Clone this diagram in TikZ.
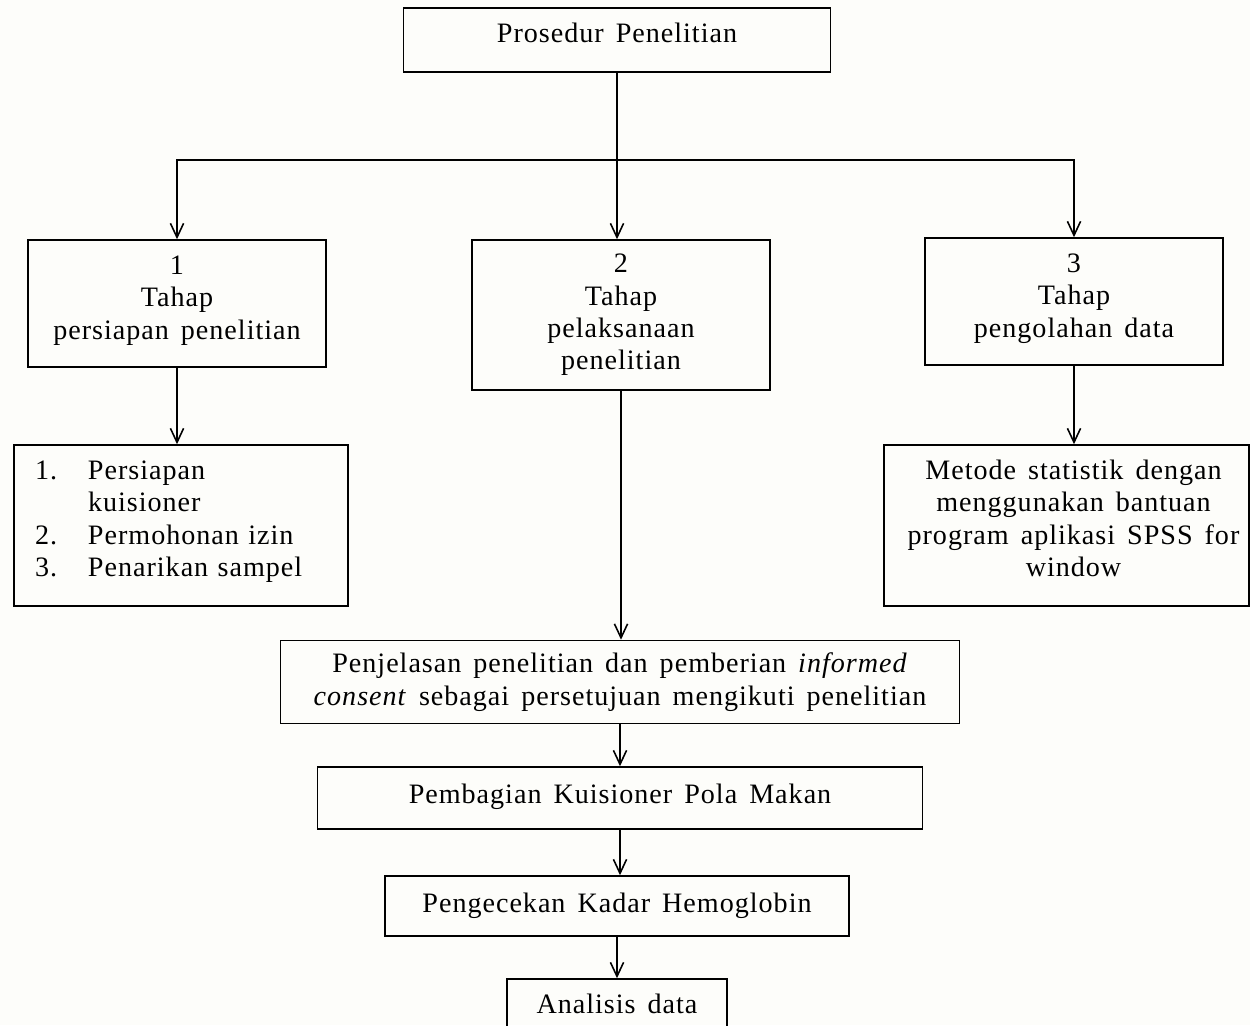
\documentclass[tikz,border=0pt]{standalone}
\usepackage{fontspec}
\setmainfont{Liberation Serif}[LetterSpace=3.5, WordSpace=1.5]
\usetikzlibrary{arrows.meta,positioning}
\definecolor{paper}{RGB}{253,253,250}

\begin{document}
\begin{tikzpicture}[x=0.02cm, y=-0.02cm,
    box/.style={rectangle, draw=black, line width=0.9pt, align=center, inner sep=0pt, font=\fontsize{16}{18.4}\selectfont},
    arrow/.style={-{Straight Barb[length=8pt,width=7.5pt]}, line width=0.9pt}
  ]
    \fill[paper] (0,0) rectangle (1250,1025);
    \useasboundingbox (0,0) rectangle (1250,1025);

    % Top
    \node[box, minimum width=8.54cm, minimum height=1.28cm] (prosedur) at (617,40) {\raisebox{0.28cm}{Prosedur Penelitian}};

    % Stages
    \node[box, minimum width=5.96cm, minimum height=2.54cm] (tahapa) at (177,303.5)
      {\raisebox{0.06cm}[\height][\depth]{\begin{tabular}{@{}c@{}}1\\Tahap\\persiapan penelitian\end{tabular}}};
    \node[box, minimum width=5.96cm, minimum height=3.0cm] (tahapb) at (621,315) {2\\Tahap\\pelaksanaan\\penelitian};
    \node[box, minimum width=5.96cm, minimum height=2.54cm] (tahapc) at (1074,301.5)
      {\raisebox{0.06cm}[\height][\depth]{\begin{tabular}{@{}c@{}}3\\Tahap\\pengolahan data\end{tabular}}};

    % Details
    \node[box, minimum width=6.68cm, minimum height=3.22cm, text width=5.84cm, align=left] (persiapan) at (181,525.5)
      {\raisebox{0.08cm}[\height][\depth]{\begin{tabular}{@{}p{1.06cm}@{}l@{}}
        1. & Persiapan\\
           & kuisioner\\
        2. & Permohonan izin\\
        3. & Penarikan sampel
      \end{tabular}}};
    \node[box, minimum width=7.3cm, minimum height=3.22cm] (metode) at (1066.5,525.5)
      {\hspace*{0.28cm}\raisebox{0.08cm}[\height][\depth]{\begin{tabular}{@{}c@{}}
        Metode statistik dengan\\
        menggunakan bantuan\\
        program aplikasi SPSS for\\
        window
      \end{tabular}}};

    % Field steps
    \node[box, minimum width=13.58cm, minimum height=1.66cm] (penjelasan) at (620,682)
      {Penjelasan penelitian dan pemberian \textit{informed}\\\textit{consent} sebagai persetujuan mengikuti penelitian};
    \node[box, minimum width=12.1cm, minimum height=1.24cm] (pembagian) at (620,798) {\raisebox{0.16cm}{Pembagian Kuisioner Pola Makan}};
    \node[box, minimum width=9.28cm, minimum height=1.2cm] (pengecekan) at (617,906) {\raisebox{0.08cm}{Pengecekan Kadar Hemoglobin}};
    \node[box, minimum width=4.4cm, minimum height=1.2cm] (analisis) at (617,1009) {\raisebox{0.2cm}{Analisis data}};

    % Connections
    \coordinate (split) at (617,160);
    \draw[line width=0.9pt] (prosedur.south) -- (split);
    \draw[arrow] (split) -- (split |- tahapb.north);
    \draw[arrow] (split) -| (tahapa.north);
    \draw[arrow] (split) -| (tahapc.north);

    \draw[arrow] (tahapa.south) -- (tahapa.south |- persiapan.north);
    \draw[arrow] (tahapc.south) -- (tahapc.south |- metode.north);
    \draw[arrow] (tahapb.south) -- (tahapb.south |- penjelasan.north);

    \draw[arrow] (penjelasan.south) -- (pembagian.north);
    \draw[arrow] (pembagian.south) -- (pembagian.south |- pengecekan.north);
    \draw[arrow] (pengecekan.south) -- (analisis.north);
  \end{tikzpicture}
\end{document}
